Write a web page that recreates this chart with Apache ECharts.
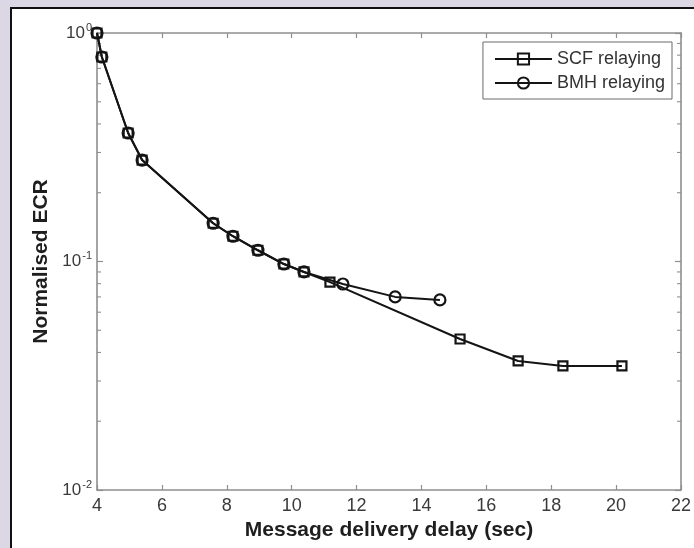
<!DOCTYPE html>
<html>
<head>
<meta charset="utf-8">
<style>
  html, body { margin: 0; padding: 0; background: #dcd7e5; }
  #chart { width: 694px; height: 548px; }
</style>
<script src="https://cdn.jsdelivr.net/npm/echarts@6/dist/echarts.min.js"></script>
</head>
<body>
<div id="chart"></div>
<script>
// Message delivery delay (sec) and normalised ECR for each relaying scheme
const scfDelay = [4.0, 4.15, 4.96, 5.39, 7.58, 8.19, 8.96, 9.76, 10.38, 11.18, 15.19, 16.98, 18.36, 20.18];
const scfEcr   = [1.0, 0.785, 0.365, 0.278, 0.147, 0.129, 0.112, 0.0975, 0.090, 0.0813, 0.0458, 0.0367, 0.0349, 0.0349];
const bmhDelay = [4.0, 4.15, 4.96, 5.39, 7.58, 8.19, 8.96, 9.76, 10.38, 11.58, 13.19, 14.57];
const bmhEcr   = [1.0, 0.785, 0.365, 0.278, 0.147, 0.129, 0.112, 0.0975, 0.090, 0.0797, 0.070, 0.0679];

const seriesNames = ['SCF relaying', 'BMH relaying'];
const xTicks = { min: 4, max: 22, step: 2 };
const yDecades = { min: 0.01, max: 1 };
// minor tick values on the log axis (2..9 times each decade)
const minorTickValues = [0.02, 0.03, 0.04, 0.05, 0.06, 0.07, 0.08, 0.09, 0.2, 0.3, 0.4, 0.5, 0.6, 0.7, 0.8, 0.9];

const zip = (xs, ys) => xs.map((x, i) => [x, ys[i]]);

const axisGray = '#8f8f8f';
const textDark = '#3a3a3a';
const font = 'Liberation Sans, Arial, sans-serif';

const chart = echarts.init(document.getElementById('chart'), null, { renderer: 'canvas' });

const yLabelFormatter = v => {
  const e = Math.round(Math.log10(v));
  return '{b|10}{s|' + e + '}';
};

const markerStyle = {
  color: 'rgba(255,255,255,0)',
  borderColor: '#141414',
  borderWidth: 2.2
};

chart.setOption({
  animation: false,
  backgroundColor: 'transparent',
  textStyle: { fontFamily: font },
  graphic: [{
    type: 'rect',
    z: -10,
    shape: { x: 11, y: 8, width: 720, height: 580 },
    style: { fill: '#ffffff', stroke: '#111111', lineWidth: 2 }
  }],
  grid: { left: 97, top: 33, width: 584, height: 457, containLabel: false },
  legend: {
    right: 22,
    top: 42,
    orient: 'vertical',
    data: seriesNames,
    itemWidth: 57,
    itemHeight: 14,
    itemGap: 6,
    padding: [8, 7, 7, 11],
    borderColor: '#6a6a6a',
    borderWidth: 1,
    backgroundColor: '#ffffff',
    textStyle: { fontSize: 18, color: '#333', fontFamily: font }
  },
  xAxis: [{
    type: 'value',
    min: xTicks.min,
    max: xTicks.max,
    interval: xTicks.step,
    name: 'Message delivery delay (sec)',
    nameLocation: 'middle',
    nameGap: 24,
    nameTextStyle: { fontSize: 21, fontWeight: 'bold', color: '#1e1e1e', fontFamily: font },
    axisLine: { show: true, onZero: false, lineStyle: { color: axisGray, width: 1.6 } },
    axisTick: { show: true, inside: true, length: 5, lineStyle: { color: axisGray, width: 1.2 } },
    axisLabel: { fontSize: 18, color: textDark, margin: 7, fontFamily: font },
    splitLine: { show: false }
  }, {
    type: 'value',
    position: 'top',
    min: xTicks.min,
    max: xTicks.max,
    interval: xTicks.step,
    axisLine: { show: true, onZero: false, lineStyle: { color: axisGray, width: 1.6 } },
    axisTick: { show: true, inside: true, length: 5, lineStyle: { color: axisGray, width: 1.2 } },
    axisLabel: { show: false },
    splitLine: { show: false }
  }],
  yAxis: [{
    type: 'log',
    logBase: 10,
    min: yDecades.min,
    max: yDecades.max,
    name: 'Normalised ECR',
    nameLocation: 'middle',
    nameGap: 45,
    nameTextStyle: { fontSize: 21, fontWeight: 'bold', color: '#1e1e1e', fontFamily: font },
    axisLine: { show: true, onZero: false, lineStyle: { color: axisGray, width: 1.6 } },
    axisTick: { show: true, inside: true, length: 6, lineStyle: { color: axisGray, width: 1.2 } },
    axisLabel: {
      margin: 5,
      formatter: yLabelFormatter,
      rich: {
        b: { fontSize: 17, color: textDark, fontFamily: font },
        s: { fontSize: 11, color: textDark, fontFamily: font, verticalAlign: 'bottom', padding: [0, 0, 11, 1] }
      }
    },
    splitLine: { show: false }
  }, {
    type: 'log',
    logBase: 10,
    min: yDecades.min,
    max: yDecades.max,
    position: 'right',
    axisLine: { show: true, onZero: false, lineStyle: { color: axisGray, width: 1.6 } },
    axisTick: { show: true, inside: true, length: 6, lineStyle: { color: axisGray, width: 1.2 } },
    axisLabel: { show: false },
    splitLine: { show: false }
  }],
  series: [{
    // minor ticks of the log axis, on both vertical sides of the frame
    type: 'custom',
    silent: true,
    xAxisIndex: 0,
    yAxisIndex: 0,
    data: minorTickValues.map(v => [xTicks.min, v]),
    renderItem: (params, api) => {
      const v = api.value(1);
      const l = api.coord([xTicks.min, v]);
      const r = api.coord([xTicks.max, v]);
      const st = { stroke: axisGray, lineWidth: 1.1 };
      return {
        type: 'group',
        children: [
          { type: 'line', shape: { x1: l[0], y1: l[1], x2: l[0] + 4, y2: l[1] }, style: st },
          { type: 'line', shape: { x1: r[0] - 4, y1: r[1], x2: r[0], y2: r[1] }, style: st }
        ]
      };
    },
    z: 1
  }, {
    name: seriesNames[0],
    type: 'line',
    data: zip(scfDelay, scfEcr),
    symbol: 'rect',
    symbolSize: 9,
    showAllSymbol: true,
    lineStyle: { color: '#141414', width: 2 },
    itemStyle: markerStyle,
    z: 3
  }, {
    name: seriesNames[1],
    type: 'line',
    data: zip(bmhDelay, bmhEcr),
    symbol: 'circle',
    symbolSize: 11,
    showAllSymbol: true,
    lineStyle: { color: '#141414', width: 2 },
    itemStyle: markerStyle,
    z: 4
  }]
});
</script>
</body>
</html>
